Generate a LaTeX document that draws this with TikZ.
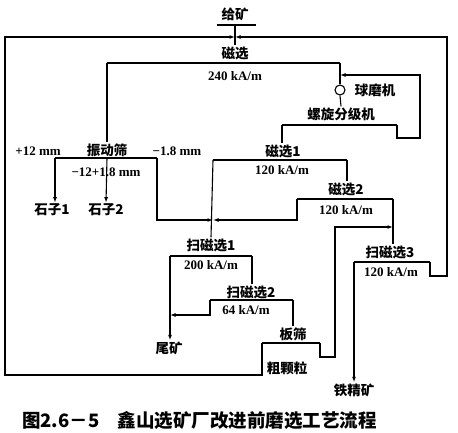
\documentclass[tikz,border=0pt]{standalone}
\usepackage{fontspec}
\setmainfont{Liberation Serif}
\newfontfamily\hei{Noto Sans CJK SC}
\usepackage{tikz}
\usetikzlibrary{arrows.meta}

\begin{document}
\begin{tikzpicture}
      [ x=1pt, y=-1pt,
        >={Latex[length=5.5pt,width=4pt]},
        bar/.style={line width=2.8pt},
        flow/.style={line width=1.1pt},
        lbl/.style={font=\hei\bfseries\fontsize{13.5}{14}\selectfont, inner sep=1pt},
        val/.style={font=\bfseries\fontsize{13}{14}\selectfont, inner sep=1pt},
        mill/.style={circle, draw, line width=1.1pt, minimum size=10pt, inner sep=0pt}
      ]
      \useasboundingbox (0,0) rectangle (458,432);

      \node[lbl] (feed)  at (235,14)  {给矿};
      \node[lbl] (ms)    at (235,53)  {磁选};
      \node[val] (msv)   at (235,76)  {240 kA/m};
      \node[mill] (ball) at (340,90)  {};
      \node[lbl] (balll) at (375,90)  {球磨机};
      \node[lbl] (cls)   at (341,114) {螺旋分级机};
      \node[lbl] (m1)    at (283,151) {磁选1};
      \node[val] (m1v)   at (282,170) {120 kA/m};
      \node[lbl] (m2)    at (346,189) {磁选2};
      \node[val] (m2v)   at (346,210) {120 kA/m};
      \node[lbl] (sv)    at (107,150) {振动筛};
      \node[val] (svp)   at (38,151)  {+12 mm};
      \node[val] (svm)   at (177,151) {−1.8 mm};
      \node[val] (svc)   at (106,172) {−12+1.8 mm};
      \node[lbl] (st1)   at (52,210)  {石子1};
      \node[lbl] (st2)   at (106,210) {石子2};
      \node[lbl] (s1)    at (211,245) {扫磁选1};
      \node[val] (s1v)   at (211,265) {200 kA/m};
      \node[lbl] (s2)    at (251,292) {扫磁选2};
      \node[val] (s2v)   at (246,310) {64 kA/m};
      \node[lbl] (s3)    at (390,252) {扫磁选3};
      \node[val] (s3v)   at (391,272) {120 kA/m};
      \node[lbl] (tail)  at (169,348) {尾矿};
      \node[lbl] (scr)   at (293,334) {板筛};
      \node[lbl] (crs)   at (287,368) {粗颗粒};
      \node[lbl] (conc)  at (354,390) {铁精矿};
      \node[font=\hei\bfseries\fontsize{18.5}{19}\selectfont, anchor=west, inner sep=0pt]
            (cap) at (22,420) {图2.6－5\quad 鑫山选矿厂改进前磨选工艺流程};

      \coordinate (feedL) at (217,25);  \coordinate (feedR) at (256,25);
      \coordinate (feedM) at (235,25);  \coordinate (joinA) at (235,37);
      \coordinate (m0L) at (107,63);    \coordinate (m0R) at (340,63);
      \coordinate (svL) at (55,158);    \coordinate (svM) at (107,158);
      \coordinate (svR) at (157,158);
      \coordinate (clL) at (282,125);   \coordinate (clR) at (397,125);
      \coordinate (rc1) at (420,138);   \coordinate (millJ) at (340,75);
      \coordinate (m1L) at (213,160);   \coordinate (m1R) at (347,160);
      \coordinate (m2L) at (297,199);   \coordinate (m2R) at (393,199);
      \coordinate (j1) at (213,220);
      \coordinate (s1L) at (170,256);   \coordinate (s1R) at (252,256);
      \coordinate (s2L) at (210,300);   \coordinate (s2R) at (293,300);
      \coordinate (j2) at (170,315);
      \coordinate (sbL) at (262,343);   \coordinate (sbR) at (320,343);
      \coordinate (ps1) at (335,357);   \coordinate (ps2) at (393,227);
      \coordinate (s3L) at (354,262);   \coordinate (s3R) at (430,262);
      \coordinate (loopSW) at (5,375);  \coordinate (loopSE) at (447,276);

      \draw[bar] (feedL) -- (feedR);
      \draw[bar] (m0L) -- (m0R);
      \draw[bar] (svL) -- (svR);
      \draw[bar] (clL) -- (clR);
      \draw[bar] (m1L) -- (m1R);
      \draw[bar] (m2L) -- (m2R);
      \draw[bar] (s1L) -- (s1R);
      \draw[bar] (s2L) -- (s2R);
      \draw[bar] (sbL) -- (sbR);
      \draw[bar] (s3L) -- (s3R);

      \draw[flow] (feedM) -- (ms.north);
      \draw[flow,->] (sbL) |- (loopSW) |- (joinA);
      \draw[flow,->] (s3R) |- (loopSE) |- (joinA);
      \draw[flow] (m0L) -- (sv.north);
      \draw[flow,->] (svM) -- (st2.north);
      \draw[flow,->] (svL) -- (svL |- st1.north);
      \draw[flow,->] (svR) |- (j1);
      \draw[flow,->] (m2L) |- (j1);
      \draw[flow] (m1L) -- (s1.north);
      \draw[flow] (m0R) -- (ball.north);
      \draw[flow] (ball.south) -- (cls.north);
      \draw[flow,->] (clR) |- (rc1) |- (millJ);
      \draw[flow] (clL) -- (clL |- m1.north);
      \draw[flow] (m1R) -- (m1R |- m2.north);
      \draw[flow] (m2R) -- (m2R |- s3.north);
      \draw[flow,->] (sbR) |- (ps1) |- (ps2);
      \draw[flow,->] (s3L) -- (s3L |- conc.north);
      \draw[flow,->] (s1L) -- (s1L |- tail.north);
      \draw[flow] (s1R) -- (s1R |- s2.north);
      \draw[flow,->] (s2L) |- (j2);
      \draw[flow] (s2R) -- (scr.north);
\end{tikzpicture}
\end{document}
